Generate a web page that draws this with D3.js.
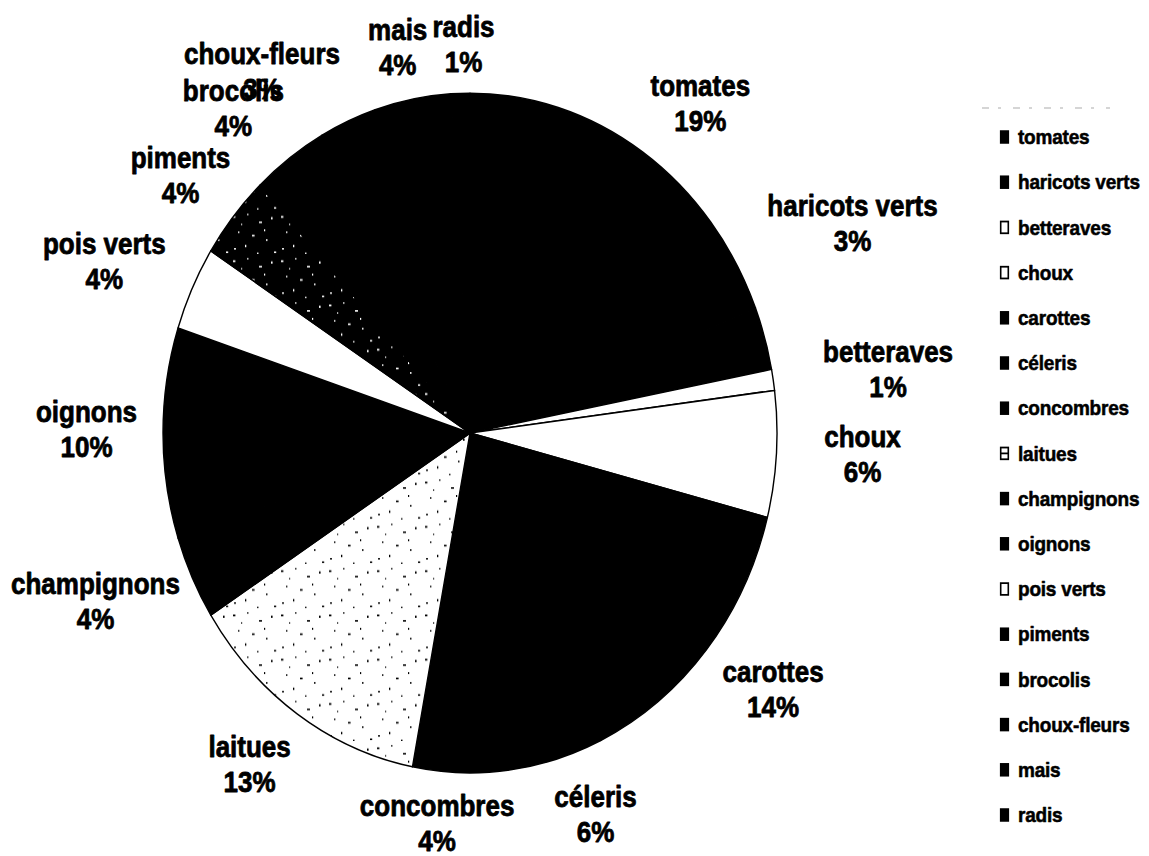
<!DOCTYPE html>
<html>
<head>
<meta charset="utf-8">
<script src="https://cdn.jsdelivr.net/npm/d3@7"></script>
<style>
  html, body { margin: 0; background: #fff; }
  svg { display: block; }
  text { font-family: "Liberation Sans", Arial, sans-serif; font-weight: bold; fill: #000;
         stroke: #000; paint-order: stroke; stroke-linejoin: round; }
</style>
</head>
<body>
<svg id="chart" width="1149" height="856"></svg>
<script>
// Vegetables grown, share of the garden (%)
const categories = ["tomates", "haricots verts", "betteraves", "choux", "carottes", "céleris",
  "concombres", "laitues", "champignons", "oignons", "pois verts", "piments", "brocolis",
  "choux-fleurs", "mais", "radis"];
const shares = [19, 3, 1, 6, 14, 6, 4, 13, 4, 10, 4, 4, 4, 3, 4, 1];

// Slice fill styles, in category order
const sliceStyle = ["solid", "solid", "white", "white", "solid", "solid", "solid", "speckleLight",
  "solid", "solid", "white", "speckleDark", "solid", "solid", "solid", "solid"];

// Hand adjustments of the data labels (dx, dy), from their default outside spot
const labelNudge = [[14, 5], [-21, -87], [23, 0], [20, -3], [6, 0], [32, -8], [-7, -11], [-9, -2],
  [5, -3], [2, -3], [-7, 1], [7, 1], [-10, 3], [-44, 9], [-4, 11], [5, 14]];

const stretch = 1.107;           // the whole drawing is taller than wide
const svg = d3.select("#chart");
const defs = svg.append("defs");
const root = svg.append("g").attr("transform", `scale(1,${stretch})`);

// Speckled textures: sparse, irregular specks
const specks = [[3, 4, 2.4, 1.6], [17, 2, 1.5, 1.2], [29, 9, 3, 1.4], [41, 5, 1.6, 2], [8, 18, 1.4, 1.4],
  [22, 21, 2.6, 1.5], [36, 25, 1.5, 1.5], [4, 33, 2, 1.3], [15, 30, 1.3, 2.2], [44, 36, 2.2, 1.4],
  [27, 37, 1.5, 1.2], [11, 11, 1.2, 1.2], [34, 16, 1.2, 1.8]];
function speckle(id, bg, fg) {
  const p = defs.append("pattern").attr("id", id).attr("patternUnits", "userSpaceOnUse")
    .attr("width", 48).attr("height", 40);
  p.append("rect").attr("width", 48).attr("height", 40).attr("fill", bg);
  p.selectAll("rect.d").data(specks).join("rect").attr("class", "d")
    .attr("x", d => d[0]).attr("y", d => d[1]).attr("width", d => d[2]).attr("height", d => d[3])
    .attr("fill", fg);
}
speckle("speckleLight", "#fff", "#000");
speckle("speckleDark", "#000", "#fff");
const fillOf = s => s === "solid" ? "#000" : s === "white" ? "#fff" : `url(#${s})`;

// Pie
const cx = 470, cy = 433 / stretch, r = 307;
const pie = d3.pie().sort(null).value(d => d.v).startAngle(0).endAngle(2 * Math.PI);
const arcs = pie(categories.map((c, i) => ({ c, v: shares[i], i })));
const arc = d3.arc().innerRadius(0).outerRadius(r);

const pieG = root.append("g").attr("transform", `translate(${cx},${cy})`);
pieG.selectAll("path").data(arcs).join("path")
  .attr("d", arc)
  .attr("fill", d => fillOf(sliceStyle[d.data.i]))
  .attr("stroke", "#000").attr("stroke-width", 1.4).attr("stroke-linejoin", "round");

// Data labels: name and percentage, placed just outside each slice
const fs = 26, lineGap = 35 / stretch, gap = 28;
const labels = pieG.selectAll("g.lab").data(arcs).join("g").attr("class", "lab");
labels.each(function (d) {
  const g = d3.select(this);
  const t1 = g.append("text").attr("text-anchor", "middle").style("font-size", fs + "px")
    .style("stroke-width", "0.7px").text(d.data.c);
  const t2 = g.append("text").attr("text-anchor", "middle").style("font-size", fs + "px")
    .style("stroke-width", "0.7px").text(d.data.v + "%");
  const w = Math.max(t1.node().getComputedTextLength(), t2.node().getComputedTextLength());
  const a = (d.startAngle + d.endAngle) / 2;
  const s = Math.sin(a), c = Math.cos(a);
  const hh = 30;
  const nd = labelNudge[d.data.i];
  const x = (r + gap) * s + s * w / 2 + nd[0];
  const y = -(r + gap) * c - c * hh + nd[1];
  t1.attr("x", x).attr("y", y - lineGap / 2 + 8.5);
  t2.attr("x", x).attr("y", y + lineGap / 2 + 8.5);
});

// Legend
const legY = d3.scalePoint().domain(categories).range([137 / stretch, 815 / stretch]);
const leg = root.append("g");
leg.append("line").attr("x1", 982).attr("x2", 1110).attr("y1", 108 / stretch).attr("y2", 108 / stretch)
  .attr("stroke", "#c8c8c8").attr("stroke-width", 1.2).attr("stroke-dasharray", "7 9 3 12");
const item = leg.selectAll("g.item").data(categories).join("g").attr("class", "item")
  .attr("transform", d => `translate(1000,${legY(d)})`);
item.append("rect").attr("x", 0.7).attr("y", -5.3).attr("width", 7.6).attr("height", 10.6)
  .attr("fill", (d, i) => (sliceStyle[i] === "white" || sliceStyle[i] === "speckleLight") ? "#fff" : "#000")
  .attr("stroke", "#000").attr("stroke-width", 1.6);
item.filter((d, i) => sliceStyle[i] === "speckleLight").append("line")
  .attr("x1", 1).attr("x2", 8).attr("y1", 0).attr("y2", 0).attr("stroke", "#000").attr("stroke-width", 1.6);
item.append("text").attr("x", 18).attr("y", 6.5).style("font-size", "19px")
  .style("stroke-width", "0.5px").style("letter-spacing", "-0.2px").text(d => d);
</script>
</body>
</html>
